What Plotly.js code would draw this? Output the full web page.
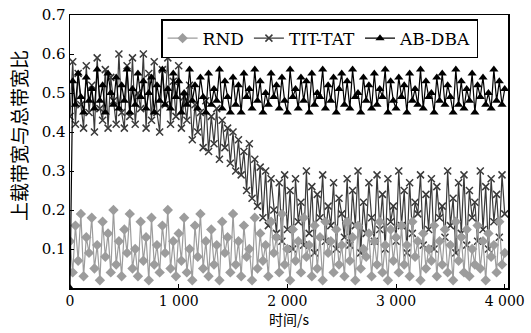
<!DOCTYPE html>
<html>
<head>
<meta charset="utf-8">
<script src="https://cdn.plot.ly/plotly-3.0.1.min.js"></script>
<style>html,body{margin:0;padding:0;background:#fff}#chart{width:531px;height:333px}</style>
</head>
<body>
<div id="chart"></div>
<script>
// time axis: samples every 25 s from 0 to 4000 s
const timeStart = 0;
const timeStep = 25;

const seriesNames = ["RND", "TIT-TAT", "AB-DBA"];

const rnd = [
0.12,0.04,0.16,0.07,0.19,0.03,0.13,0.09,0.18,0.05,0.11,0.02,0.17,0.08,0.14,0.04,0.20,0.06,0.12,0.03,
0.15,0.09,0.19,0.05,0.10,0.03,0.17,0.07,0.13,0.02,0.18,0.06,0.11,0.04,0.16,0.09,0.20,0.05,0.12,0.03,
0.14,0.07,0.18,0.04,0.10,0.02,0.16,0.08,0.19,0.05,0.12,0.03,0.15,0.06,0.11,0.02,0.17,0.09,0.13,0.04,
0.19,0.06,0.12,0.03,0.16,0.08,0.10,0.02,0.18,0.05,0.14,0.07,0.11,0.03,0.17,0.09,0.13,0.04,0.19,0.06,
0.10,0.02,0.15,0.07,0.12,0.04,0.18,0.08,0.11,0.03,0.16,0.05,0.13,0.02,0.17,0.09,0.12,0.04,0.15,0.06,
0.11,0.03,0.17,0.07,0.13,0.02,0.16,0.05,0.10,0.08,0.14,0.03,0.12,0.06,0.17,0.04,0.11,0.02,0.15,0.07,
0.13,0.04,0.16,0.06,0.11,0.03,0.17,0.08,0.12,0.02,0.14,0.05,0.10,0.07,0.16,0.03,0.12,0.06,0.15,0.04,
0.11,0.02,0.17,0.07,0.13,0.04,0.15,0.03,0.10,0.06,0.16,0.05,0.12,0.02,0.14,0.08,0.11,0.04,0.17,0.06,
0.09
];

const titTat = [
0.44,0.58,0.42,0.55,0.47,0.41,0.57,0.45,0.52,0.40,0.59,0.46,0.43,0.56,0.41,0.54,0.48,0.42,0.60,0.45,
0.41,0.57,0.44,0.59,0.42,0.50,0.46,0.60,0.41,0.55,0.43,0.58,0.45,0.40,0.56,0.47,0.59,0.42,0.53,0.44,
0.57,0.41,0.49,0.43,0.52,0.38,0.47,0.40,0.45,0.36,0.48,0.35,0.44,0.37,0.46,0.33,0.43,0.36,0.41,0.32,
0.40,0.30,0.38,0.29,0.35,0.25,0.37,0.23,0.33,0.21,0.31,0.18,0.30,0.16,0.28,0.20,0.14,0.27,0.12,0.29,
0.15,0.25,0.10,0.28,0.17,0.22,0.11,0.30,0.14,0.26,0.09,0.24,0.18,0.29,0.12,0.21,0.16,0.27,0.10,0.23,
0.19,0.13,0.28,0.11,0.25,0.16,0.30,0.09,0.22,0.14,0.27,0.18,0.12,0.29,0.15,0.24,0.10,0.28,0.17,0.21,
0.12,0.30,0.16,0.25,0.09,0.27,0.14,0.22,0.19,0.29,0.11,0.24,0.15,0.28,0.10,0.26,0.18,0.21,0.13,0.30,
0.16,0.23,0.09,0.27,0.14,0.29,0.11,0.25,0.18,0.22,0.12,0.30,0.15,0.26,0.10,0.28,0.17,0.24,0.13,0.29,
0.19
];

const abDba = [
0.00,0.53,0.47,0.55,0.49,0.45,0.54,0.48,0.51,0.46,0.56,0.48,0.52,0.45,0.55,0.50,0.47,0.54,0.46,0.52,
0.48,0.56,0.45,0.51,0.47,0.55,0.49,0.53,0.46,0.50,0.54,0.45,0.52,0.48,0.56,0.47,0.51,0.46,0.55,0.49,
0.53,0.45,0.50,0.47,0.56,0.48,0.52,0.46,0.54,0.49,0.45,0.55,0.47,0.51,0.48,0.56,0.46,0.53,0.49,0.45,
0.54,0.47,0.52,0.45,0.55,0.49,0.51,0.46,0.56,0.48,0.53,0.45,0.50,0.47,0.55,0.49,0.52,0.46,0.54,0.48,
0.45,0.56,0.49,0.51,0.46,0.54,0.48,0.53,0.45,0.55,0.47,0.50,0.49,0.56,0.46,0.52,0.48,0.54,0.45,0.51,
0.55,0.47,0.53,0.46,0.56,0.49,0.50,0.45,0.54,0.48,0.52,0.46,0.55,0.47,0.51,0.49,0.56,0.45,0.53,0.48,
0.46,0.54,0.49,0.52,0.45,0.55,0.48,0.51,0.47,0.56,0.46,0.53,0.49,0.50,0.45,0.54,0.48,0.55,0.47,0.52,
0.49,0.45,0.56,0.47,0.53,0.46,0.51,0.48,0.55,0.45,0.52,0.49,0.54,0.47,0.50,0.46,0.56,0.48,0.53,0.47,
0.51
];

const xTickVals = [0, 1000, 2000, 3000, 4000];
const xTickText = ["0", "1 000", "2 000", "3 000", "4 000"];
const yTickVals = [0.1, 0.2, 0.3, 0.4, 0.5, 0.6, 0.7];
const yTickText = ["0.1", "0.2", "0.3", "0.4", "0.5", "0.6", "0.7"];
const yTitle = "上载带宽与总带宽比";
const xTitle = "时间/s";

const serif = "DejaVu Serif";
const cjk = "Noto Sans CJK SC";

const traces = [
  {
    y: titTat, x0: timeStart, dx: timeStep, name: seriesNames[1], legendrank: 2,
    mode: "lines+markers", type: "scatter",
    line: {color: "#3a3a3a", width: 1.2},
    marker: {symbol: "x-thin-open", size: 7, color: "#3a3a3a", line: {color: "#3a3a3a", width: 1.5}}
  },
  {
    y: rnd, x0: timeStart, dx: timeStep, name: seriesNames[0], legendrank: 1,
    mode: "lines+markers", type: "scatter",
    line: {color: "#9c9c9c", width: 1.2},
    marker: {symbol: "diamond", size: 8, color: "#9c9c9c"}
  },
  {
    y: abDba, x0: timeStart, dx: timeStep, name: seriesNames[2], legendrank: 3,
    mode: "lines+markers", type: "scatter",
    line: {color: "#000000", width: 1.2},
    marker: {symbol: "triangle-up", size: 8, color: "#000000"}
  }
];

const layout = {
  width: 531, height: 333,
  margin: {l: 70, r: 23, t: 15, b: 45},
  paper_bgcolor: "#ffffff", plot_bgcolor: "#ffffff",
  showlegend: true,
  legend: {
    orientation: "h", x: 0.208, xanchor: "left", y: 0.985, yanchor: "top",
    bgcolor: "#ffffff", bordercolor: "#000000", borderwidth: 1.5,
    font: {family: serif, size: 17, color: "#000"},
    itemwidth: 30, tracegroupgap: 0
  },
  xaxis: {
    range: [0, 4030], showgrid: false, zeroline: false,
    showline: true, linecolor: "#000", linewidth: 1.5, mirror: true,
    ticks: "inside", ticklen: 4, tickcolor: "#000",
    tickvals: xTickVals, ticktext: xTickText,
    tickfont: {family: serif, size: 14, color: "#000"},
    title: {text: xTitle, font: {family: cjk, size: 14, color: "#000"}, standoff: 2}
  },
  yaxis: {
    range: [0, 0.7], showgrid: false, zeroline: false,
    showline: true, linecolor: "#000", linewidth: 1.5, mirror: true,
    ticks: "inside", ticklen: 4, tickcolor: "#000",
    tickvals: yTickVals, ticktext: yTickText,
    tickfont: {family: serif, size: 15, color: "#000"}
  },
  annotations: [{
    text: yTitle, textangle: -90, showarrow: false,
    xref: "paper", yref: "paper", x: -0.119, y: 0.56, xanchor: "center", yanchor: "middle",
    font: {family: cjk, size: 19, color: "#000"}
  }]
};

Plotly.newPlot("chart", traces, layout, {displayModeBar: false, staticPlot: true});
</script>
</body>
</html>
